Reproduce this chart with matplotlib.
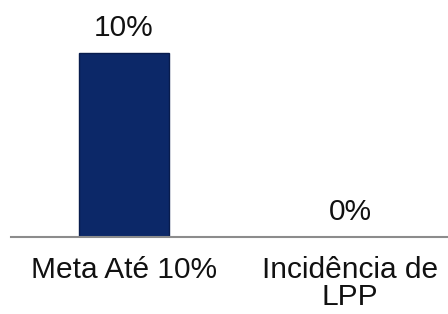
import matplotlib
matplotlib.use('Agg')
import matplotlib.pyplot as plt
import numpy as np

plt.rcParams['font.family'] = ['Liberation Sans', 'DejaVu Sans']

# chart data
categories = ['Meta Até 10%', 'Incidência de\nLPP']
values = [10, 0]
labels = ['10%', '0%']

fig = plt.figure(figsize=(4.48, 3.14), dpi=100)
# axes run a bit past the right edge, like the original
ax = fig.add_axes([11/448, 77/314, 452/448, 221/314])

x = np.arange(len(categories))
bars = ax.bar(x, values, width=0.40, color='#0c2868', edgecolor='#081c4d', linewidth=1.0)

for xi, v, lab in zip(x, values, labels):
    ax.annotate(lab, (xi, v), xytext=(0, 12), textcoords='offset points',
                ha='center', va='baseline', fontsize=21.5, color='#111111')

ax.set_xlim(-0.5, 1.5)
ax.set_ylim(0, 12)
ax.set_xticks(x)
ax.set_xticklabels(categories, fontsize=21.5, color='#111111', linespacing=0.93)
ax.tick_params(axis='x', length=0, pad=14)
ax.set_yticks([])

for side in ['top', 'right', 'left']:
    ax.spines[side].set_visible(False)
ax.spines['bottom'].set_color('#8c8c8c')
ax.spines['bottom'].set_linewidth(1.5)

fig.savefig('out.png', dpi=100)
